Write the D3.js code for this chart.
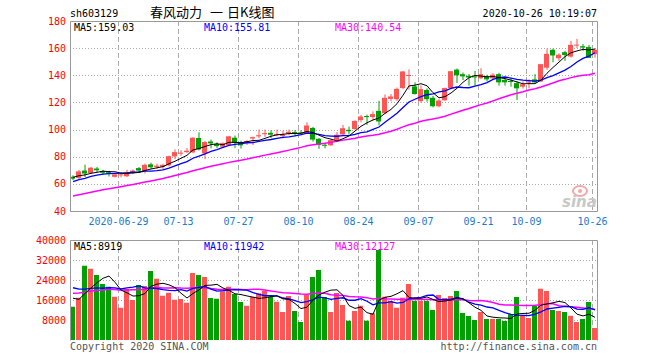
<!DOCTYPE html>
<html><head><meta charset="utf-8">
<script src="https://cdnjs.cloudflare.com/ajax/libs/d3/7.8.5/d3.min.js"></script>
<style>html,body{margin:0;padding:0;background:#fff;}svg{display:block;}</style>
</head><body>
<script>
// ---------- DATA ----------
const symbol = "sh603129";
const titleParts = ["春风动力", "一", "日K线图"];
const stamp = "2020-10-26 10:19:07";
const tickIndex = [8, 18, 28, 38, 48, 58, 68, 76, 87];
const tickLabels = ["2020-06-29", "07-13", "07-27", "08-10", "08-24", "09-07", "09-21", "10-09", "10-26"];
const priceTicks = [180, 160, 140, 120, 100, 80, 60, 40];
const volTicks = [40000, 32000, 24000, 16000, 8000];
const maLabels = ["MA5:159.03", "MA10:155.81", "MA30:140.54"];
const volMaLabels = ["MA5:8919", "MA10:11942", "MA30:12127"];

// closes / volumes before the visible window (needed for moving averages)
const priorCloses = [41.0, 41.5, 42.2, 42.0, 42.8, 43.5, 43.2, 44.0, 44.8, 45.5, 45.2, 46.0, 46.8, 47.5, 47.2, 48.0, 48.8, 50.8, 51.2, 52.0,
  55.0, 57.0, 58.5, 60.0, 61.5, 63.5, 64.5, 66.0, 66.4];
const priorVolumes = [15000, 18000, 14000, 21000, 16000, 13000, 19000, 22000, 17000, 15000, 20000, 16500, 14500, 18500, 23000, 17000, 15500, 19500, 16000, 21500,
  22000, 30000, 26000, 24000, 23500, 19000, 18000, 17500, 15700];

const opens  = [65.2,64.4,69.8,68.0,71.3,69.4,68.6,65.2,66.4,65.6,68.0,71.6,69.6,74.4,72.5,72.6,73.6,80.2,82.4,83.4,
  83.2,93.8,82.4,91.2,89.4,87.4,88.6,94.0,90.8,90.4,93.4,95.0,96.6,97.6,96.2,95.2,97.0,98.2,97.8,97.4,
  101.2,93.2,88.8,88.4,92.4,96.4,99.8,100.4,107.0,110.0,109.2,113.8,112.0,122.6,122.4,130.6,139.8,131.8,121.0,129.2,
  123.4,117.2,121.6,130.6,144.2,140.8,139.6,139.2,137.8,139.2,137.8,140.8,136.6,135.8,134.2,131.6,134.6,137.0,135.4,145.6,
  158.8,152.6,157.0,153.8,162.0,161.4,160.8,155.6];
const highs  = [66.3,70.2,74.2,72.4,72.4,70.4,69.6,67.6,68.4,70.4,70.6,72.4,75.0,75.6,75.0,74.8,80.8,85.4,84.8,86.4,
  94.4,98.0,91.6,92.6,90.6,90.6,95.4,95.6,91.8,92.2,94.8,100.0,100.0,99.4,100.0,99.2,100.0,99.6,99.4,105.4,
  102.0,93.8,90.2,92.8,98.2,103.4,102.2,106.8,110.8,111.0,113.4,121.2,125.8,126.2,131.0,143.2,144.4,134.8,132.6,130.4,
  124.8,122.4,131.0,143.2,145.0,142.0,141.0,143.2,145.2,140.4,141.6,141.8,138.4,137.8,135.6,135.6,137.0,140.8,148.4,159.6,
  159.6,156.2,158.0,165.4,166.8,163.0,162.4,159.6];
const lows   = [62.8,63.6,65.0,67.2,68.6,66.6,65.4,64.6,64.8,65.0,67.4,68.6,67.6,71.0,71.0,70.6,72.8,78.2,80.6,82.8,
  82.6,84.6,78.2,86.2,86.4,86.6,88.2,86.4,86.0,88.6,88.6,93.6,94.6,93.8,95.0,93.6,95.8,95.2,95.8,97.0,
  91.2,85.8,86.2,88.0,91.4,96.0,96.4,99.8,105.4,103.4,107.0,103.2,111.6,120.8,121.0,129.8,129.4,125.8,119.8,120.6,
  116.4,116.4,121.0,130.2,134.4,136.4,132.4,132.4,137.2,135.6,136.8,132.4,132.4,131.6,121.8,130.2,130.4,134.4,135.0,144.0,
  149.6,150.6,150.6,153.0,160.0,158.0,153.0,153.0];
const closes = [63.8,69.2,67.6,71.9,70.0,68.2,67.4,67.0,67.0,68.8,69.8,69.8,74.0,72.2,73.4,74.0,80.4,83.4,83.0,84.4,
  94.0,85.4,90.8,89.8,87.8,90.0,95.0,90.2,88.4,91.6,94.4,95.8,97.4,96.2,96.8,96.4,98.4,97.6,97.4,103.0,
  92.6,88.8,88.2,92.2,96.2,101.0,98.8,106.4,109.6,109.2,111.4,106.0,123.4,124.4,130.0,142.8,140.2,126.2,129.8,122.4,
  117.2,121.4,130.6,143.0,140.0,139.2,138.4,138.8,140.8,137.0,140.4,134.8,134.8,135.2,130.4,133.4,135.4,134.8,148.2,155.8,
  154.6,155.2,155.0,162.4,162.6,160.4,152.8,158.8];
const volumes = [13300,16900,29700,28500,26000,22400,21300,17300,12900,20400,16000,22000,21600,27600,24500,17700,18900,16100,16400,14900,
  26800,26000,25200,16800,16500,19500,21300,18400,15200,13700,17200,18700,19700,17300,15300,11200,17600,11600,7200,18100,
  25200,28000,17200,11200,18800,14000,7700,11600,13700,7700,10700,36000,17300,15600,12900,16900,22400,15600,15600,15600,
  12000,18000,16800,17600,19600,10800,9600,8000,11200,8400,8400,8400,7600,10300,17200,9600,8800,13600,20500,19600,
  12000,11600,11200,9700,7200,8400,15200,4800];

// ---------- HELPERS ----------
function movingAvg(prior, vals, n) {
  const all = prior.concat(vals);
  const off = prior.length;
  return vals.map((_, i) => d3.mean(all.slice(off + i - n + 1, off + i + 1)));
}

// ---------- CHART ----------
const W = 660, H = 360;
const L = 70, R = 598;
const PT = 21, PB = 211, VT = 240, VB = 340;
const mono = "'DejaVu Sans Mono', 'Liberation Mono', monospace";
const RED = "#ff5555", GREEN = "#00a000";
const GRID = "#aaaaaa", AXIS = "#999999";
const MAC = ["#000000", "#0000ff", "#ff00ff"];

const svg = d3.select("body").append("svg").attr("width", W).attr("height", H);
const n = closes.length;
const x = d3.scaleBand().domain(d3.range(n)).range([L, R]);
const bw = x.bandwidth();
const cx = i => x(i) + (bw - 1) / 2;
const y = d3.scaleLinear().domain([40, 180]).range([PB, PT]);
const yv = d3.scaleLinear().domain([0, 40000]).range([VB, VT]);

// header
svg.append("text").attr("x", L).attr("y", 17).attr("font-family", mono).attr("font-size", 10).attr("fill", "#000").text(symbol);
const tt = svg.append("text").attr("y", 17).attr("font-family", "'Noto Sans CJK SC', sans-serif").attr("font-size", 13).attr("fill", "#000");
const titleX = [150, 210, 227];
titleParts.forEach((t, k) => tt.append("tspan").attr("x", titleX[k]).text(t));
svg.append("text").attr("x", 597).attr("y", 17).attr("text-anchor", "end").attr("font-family", mono).attr("font-size", 10).attr("fill", "#000").text(stamp);

// gridlines price
const gP = svg.append("g");
priceTicks.filter(t => t > 40 && t < 180).forEach(t => {
  gP.append("line").attr("x1", L).attr("x2", R - 1).attr("y1", Math.round(y(t)) + 0.5).attr("y2", Math.round(y(t)) + 0.5)
    .attr("stroke", GRID).attr("stroke-dasharray", "1,2");
});
tickIndex.forEach(i => {
  gP.append("line").attr("x1", x(i) + 0.5).attr("x2", x(i) + 0.5).attr("y1", PT).attr("y2", PB)
    .attr("stroke", GRID).attr("stroke-dasharray", "5,3");
});
// volume grid
const gV = svg.append("g");
volTicks.filter(t => t < 40000).forEach(t => {
  gV.append("line").attr("x1", L).attr("x2", R - 1).attr("y1", Math.round(yv(t)) + 0.5).attr("y2", Math.round(yv(t)) + 0.5)
    .attr("stroke", GRID).attr("stroke-dasharray", "1,2");
});
tickIndex.forEach(i => {
  gV.append("line").attr("x1", x(i) + 0.5).attr("x2", x(i) + 0.5).attr("y1", VT).attr("y2", VB)
    .attr("stroke", GRID).attr("stroke-dasharray", "5,3");
});

// watermark
const wm = svg.append("g");
wm.append("ellipse").attr("cx", 580).attr("cy", 191).attr("rx", 7).attr("ry", 5).attr("fill", "none").attr("stroke", "#f2a8a8").attr("stroke-width", 2);
wm.append("circle").attr("cx", 580).attr("cy", 191).attr("r", 2).attr("fill", "#f2a8a8");
wm.append("text").attr("x", 562).attr("y", 207).attr("font-family", "'DejaVu Sans', sans-serif").attr("font-style", "italic").attr("font-weight", "bold")
  .attr("font-size", 15).attr("fill", "#c8c8c8").text("sina");

// price axis labels
priceTicks.forEach(t => {
  svg.append("text").attr("x", 66).attr("y", y(t) + 3.5).attr("text-anchor", "end").attr("font-family", mono).attr("font-size", 10).attr("fill", "#ff0000").text(t);
});
// volume axis labels
volTicks.forEach(t => {
  svg.append("text").attr("x", 66).attr("y", yv(t) + 3.5).attr("text-anchor", "end").attr("font-family", mono).attr("font-size", 10).attr("fill", "#ff0000").text(t);
});
// x labels
tickIndex.forEach((i, k) => {
  svg.append("text").attr("x", x(i) + 0.5).attr("y", 224.5).attr("text-anchor", "middle").attr("font-family", mono).attr("font-size", 10).attr("fill", "#1a7ccf").text(tickLabels[k]);
});

// candles
const cg = svg.append("g");
d3.range(n).forEach(i => {
  const up = closes[i] >= opens[i];
  const col = up ? RED : GREEN;
  cg.append("line").attr("x1", cx(i) + 0.5).attr("x2", cx(i) + 0.5).attr("y1", y(highs[i])).attr("y2", y(lows[i])).attr("stroke", col);
  const top = y(Math.max(opens[i], closes[i])), bot = y(Math.min(opens[i], closes[i]));
  cg.append("rect").attr("x", x(i)).attr("width", bw - 1).attr("y", top).attr("height", Math.max(1, bot - top)).attr("fill", col);
});

// price MAs
const ma5 = movingAvg(priorCloses, closes, 5);
const ma10 = movingAvg(priorCloses, closes, 10);
const ma30 = movingAvg(priorCloses, closes, 30);
const lp = d3.line().x((d, i) => cx(i) + 0.5).y(d => y(d));
[ma30, ma10, ma5].forEach((m, k) => {
  svg.append("path").attr("d", lp(m)).attr("fill", "none").attr("stroke", MAC[2 - k]).attr("stroke-width", [1.5, 1.3, 1][k]);
});

// volume bars
const vg = svg.append("g");
d3.range(n).forEach(i => {
  const up = closes[i] >= opens[i];
  vg.append("rect").attr("x", x(i)).attr("width", bw - 1).attr("y", yv(volumes[i])).attr("height", VB - yv(volumes[i])).attr("fill", up ? RED : GREEN);
});
const vma5 = movingAvg(priorVolumes, volumes, 5);
const vma10 = movingAvg(priorVolumes, volumes, 10);
const vma30 = movingAvg(priorVolumes, volumes, 30);
const lv = d3.line().x((d, i) => cx(i) + 0.5).y(d => yv(d));
[vma30, vma10, vma5].forEach((m, k) => {
  svg.append("path").attr("d", lv(m)).attr("fill", "none").attr("stroke", MAC[2 - k]).attr("stroke-width", [1.5, 1.3, 1][k]);
});

// borders
const bd = svg.append("g").attr("stroke", AXIS).attr("fill", "none");
bd.append("path").attr("d", `M${L + 0.5},${PB + 0.5}V${PT + 0.5}H${R - 0.5}V${PB + 0.5}H${L + 0.5}`);
bd.append("path").attr("d", `M${L + 0.5},${VB + 0.5}V${VT + 0.5}H${R - 0.5}V${VB + 0.5}`);

// MA labels
const maX = [74, 204, 335];
maLabels.forEach((t, k) => svg.append("text").attr("x", maX[k]).attr("y", 31).attr("font-family", mono).attr("font-size", 10).attr("fill", MAC[k]).text(t));
volMaLabels.forEach((t, k) => svg.append("text").attr("x", maX[k]).attr("y", 250).attr("font-family", mono).attr("font-size", 10).attr("fill", MAC[k]).text(t));

// footer
svg.append("text").attr("x", L).attr("y", 350).attr("font-family", mono).attr("font-size", 10).attr("fill", "#555").text("Copyright 2020 SINA.COM");
svg.append("text").attr("x", 597).attr("y", 350).attr("text-anchor", "end").attr("font-family", mono).attr("font-size", 10).attr("fill", "#555").text("http://finance.sina.com.cn");
</script>
</body></html>
